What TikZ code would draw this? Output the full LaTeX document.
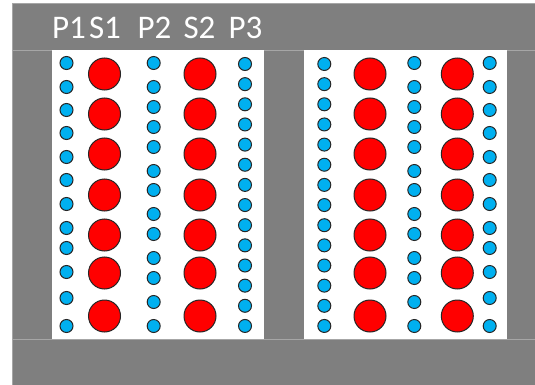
\documentclass[tikz,border=0pt]{standalone}
\usepackage{fontspec}
\newfontfamily\labfont{Carlito}
\definecolor{bandgray}{HTML}{7F7F7F}
\definecolor{bandline}{HTML}{A6A6A6}
\definecolor{dotblue}{HTML}{00B0F0}
\definecolor{dotred}{HTML}{FF0000}
\tikzset{
  band/.style={fill=bandgray,draw=bandline,line width=0.8pt},
  panel/.style={fill=white,draw=none},
  pdot/.style={circle,fill=dotblue,draw=black!85,line width=1pt,minimum size=13pt,inner sep=0pt},
  sdot/.style={circle,fill=dotred,draw=black!85,line width=1pt,minimum size=32pt,inner sep=0pt},
  lab/.style={text=white,font=\labfont\fontsize{33}{36}\selectfont,anchor=base,inner sep=0pt}
}
\begin{document}
\begin{tikzpicture}[x=1pt,y=-1pt]
\useasboundingbox (0,0) rectangle (535,385);
% background bands
\path[band] (12,3) rectangle (535,50);
\path[band] (12,50) rectangle (535,339);
\path[band] (12,339) rectangle (535,385);
% white panels
\path[panel] (52,50.5) rectangle (264,338.5);
\path[panel] (304,50.5) rectangle (507,338.5);
% labels
\node[lab] (tP1) at (69,39) {P1};
\node[lab] (tS1) at (105,39) {S1};
\node[lab] (tP2) at (154.5,39) {P2};
\node[lab] (tS2) at (199.5,39) {S2};
\node[lab] (tP3) at (245.5,39) {P3};
% left panel
\foreach \y [count=\i] in {63,87,110,133,157,180,204,228,248,272,298,326}
  \node[pdot] (LPa\i) at (66.5,\y) {};
\foreach \y [count=\i] in {74,114,154,195,235,273,316}
  \node[sdot] (LSa\i) at (104.5,\y) {};
\foreach \y [count=\i] in {63,87,107,127,147,171,190,214,234,258,278,302,326}
  \node[pdot] (LPb\i) at (153.7,\y) {};
\foreach \y [count=\i] in {74,114,154,195,235,273,316}
  \node[sdot] (LSb\i) at (200,\y) {};
\foreach \i in {0,...,13}
  \node[pdot] (LPc\i) at (245,64+20.15*\i) {};
% right panel
\foreach \i in {0,...,13}
  \node[pdot] (RPa\i) at (324.3,64+20.15*\i) {};
\foreach \y [count=\i] in {74,114,154,195,235,273,316}
  \node[sdot] (RSa\i) at (370,\y) {};
\foreach \y [count=\i] in {63,87,107,127,147,171,190,214,234,258,278,302,326}
  \node[pdot] (RPb\i) at (414.3,\y) {};
\foreach \y [count=\i] in {74,114,154,195,235,273,316}
  \node[sdot] (RSb\i) at (457.3,\y) {};
\foreach \y [count=\i] in {63,87,110,133,157,180,204,228,248,272,298,326}
  \node[pdot] (RPc\i) at (489.7,\y) {};
\end{tikzpicture}
\end{document}
